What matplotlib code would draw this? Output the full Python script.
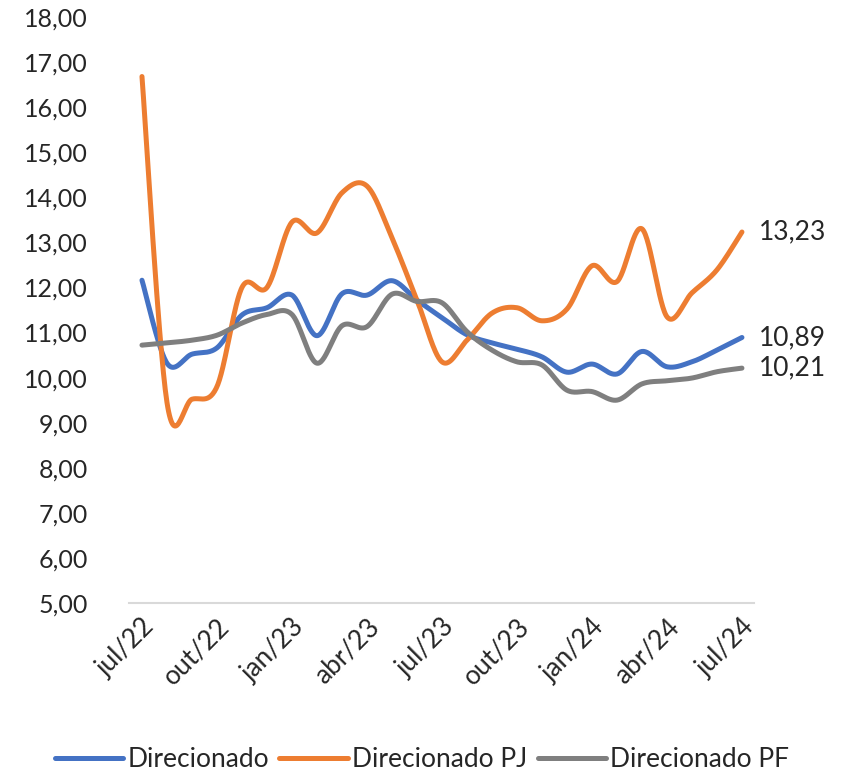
import numpy as np
import matplotlib.pyplot as plt

plt.rcParams['font.family'] = ['Lato', 'DejaVu Sans']

meses = ['jul/22', 'ago/22', 'set/22', 'out/22', 'nov/22', 'dez/22',
         'jan/23', 'fev/23', 'mar/23', 'abr/23', 'mai/23', 'jun/23',
         'jul/23', 'ago/23', 'set/23', 'out/23', 'nov/23', 'dez/23',
         'jan/24', 'fev/24', 'mar/24', 'abr/24', 'mai/24', 'jun/24', 'jul/24']

direcionado = [12.16, 10.32, 10.52, 10.66, 11.39, 11.55, 11.83, 10.93, 11.86,
               11.83, 12.15, 11.72, 11.33, 10.95, 10.77, 10.63, 10.46, 10.12,
               10.30, 10.08, 10.58, 10.24, 10.35, 10.61, 10.89]
direcionado_pj = [16.68, 9.45, 9.52, 9.80, 12.00, 12.00, 13.45, 13.21, 14.10,
                  14.25, 13.10, 11.72, 10.35, 10.83, 11.43, 11.55, 11.26, 11.52,
                  12.48, 12.13, 13.30, 11.35, 11.88, 12.39, 13.23]
direcionado_pf = [10.72, 10.77, 10.83, 10.94, 11.21, 11.40, 11.40, 10.32, 11.15,
                  11.13, 11.85, 11.69, 11.66, 11.02, 10.61, 10.35, 10.28, 9.72,
                  9.69, 9.50, 9.86, 9.93, 9.99, 10.13, 10.21]

series = [('Direcionado', direcionado, '#4472C4'),
          ('Direcionado PJ', direcionado_pj, '#ED7D31'),
          ('Direcionado PF', direcionado_pf, '#7F7F7F')]


def suaviza(y, n=30):
    # linha suavizada tipo Excel (bezier com pontos de controle catmull-rom)
    y = np.asarray(y, dtype=float)
    x = np.arange(len(y), dtype=float)
    px = np.concatenate([[x[0]], x, [x[-1]]])
    py = np.concatenate([[y[0]], y, [y[-1]]])
    t = np.linspace(0, 1, n, endpoint=False)[:, None]
    xs, ys = [], []
    for i in range(len(y) - 1):
        p0 = np.array([px[i + 1], py[i + 1]])
        p3 = np.array([px[i + 2], py[i + 2]])
        c1 = p0 + (p3 - np.array([px[i], py[i]])) / 6
        c2 = p3 - (np.array([px[i + 3], py[i + 3]]) - p0) / 6
        pts = ((1 - t) ** 3) * p0 + 3 * ((1 - t) ** 2) * t * c1 + 3 * (1 - t) * t ** 2 * c2 + t ** 3 * p3
        xs.append(pts[:, 0])
        ys.append(pts[:, 1])
    xs.append([x[-1]])
    ys.append([y[-1]])
    return np.concatenate(xs), np.concatenate(ys)


fig = plt.figure(figsize=(8.44, 7.74), dpi=100)
ax = fig.add_axes([0.1534, 0.221, 0.7405, 0.757])

for nome, vals, cor in series:
    xs, ys = suaviza(vals)
    ax.plot(xs, ys, color=cor, lw=3.6, label=nome, solid_capstyle='round')
    ax.annotate(f'{vals[-1]:.2f}'.replace('.', ','), xy=(len(vals) - 1, vals[-1]),
                xytext=(12, 0), textcoords='offset points', va='center', ha='left',
                fontsize=19, color='#262626', annotation_clip=False)

ax.set_xlim(-0.5, 24.5)
ax.set_ylim(5, 18)
ax.set_yticks(np.arange(5, 19, 1))
ax.set_yticklabels([f'{v:.2f}'.replace('.', ',') for v in np.arange(5, 19, 1)])
ax.set_xticks(range(0, 25, 3))
ax.set_xticklabels(meses[::3], rotation=45, ha='right', rotation_mode='anchor')

for s in ['top', 'right', 'left']:
    ax.spines[s].set_visible(False)
ax.spines['bottom'].set_color('#D9D9D9')
ax.spines['bottom'].set_linewidth(1.5)
ax.tick_params(axis='y', length=0, pad=30, labelsize=18, labelcolor='#262626')
ax.tick_params(axis='x', length=0, pad=8, labelsize=19, labelcolor='#262626')

fig.legend(loc='center', bbox_to_anchor=(0.5, 0.019), ncol=3, frameon=False,
           fontsize=19, handlelength=2.6, handletextpad=0.15, columnspacing=0.4,
           labelcolor='#262626')

fig.savefig('out.png', dpi=100)
